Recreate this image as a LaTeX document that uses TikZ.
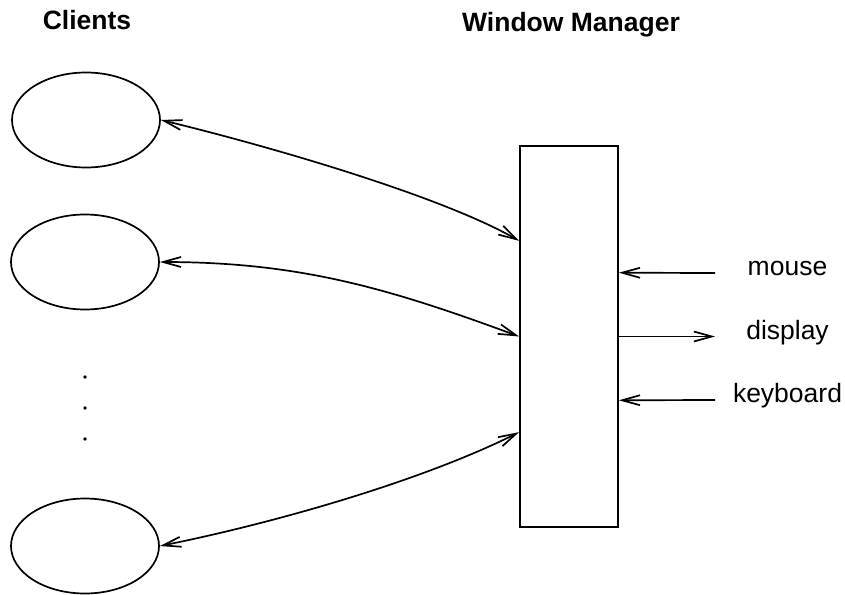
\documentclass[tikz,border=0pt]{standalone}
\usepackage{xcolor}
\usepackage{fontspec}
\setmainfont{Liberation Sans}
\usepackage{tikz}
\usetikzlibrary{positioning, shapes, calc, arrows.meta}

\begin{document}
\begin{tikzpicture}[x=1pt, y=1pt, line width=1.7pt, >={Straight Barb[length=18pt,width=10pt]},
	client/.style={draw, ellipse, minimum width=148pt, minimum height=95pt, inner sep=0pt},
	manager/.style={draw, rectangle, minimum width=98pt, minimum height=381pt, inner sep=0pt},
	lbl/.style={font=\fontsize{26.5}{30}\selectfont, inner sep=0pt},
	head/.style={font=\fontsize{26.5}{30}\selectfont\bfseries, inner sep=0pt, anchor=base}]
			\useasboundingbox (0,0) rectangle (845,-594);
			\pgfmathsetmacro{\portx}{715}
			\pgfmathsetmacro{\labelx}{787.5}
			\node[head] (clients) at (87,-30) {Clients};
			\node[head] (wmtitle) at (571,-32) {Window Manager};
			\node[client] (c1) at (86,-120) {};
			\node[client] (c2) at (85,-262) {};
			\node[client] (c3) at (85,-546) {};
			\foreach \y in {377,408,439} \fill (85,-\y) circle (1.8);
			\node[manager] (wm) at (569,-336.5) {};
			\coordinate (w1) at ($(wm.north west)!.25!(wm.south west)$);
			\coordinate (w3) at ($(wm.north west)!.75!(wm.south west)$);
			\coordinate (r1) at ($(wm.north east)!1/3!(wm.south east)$);
			\coordinate (r3) at ($(wm.north east)!2/3!(wm.south east)$);
			\coordinate (min) at (\portx,-273);
			\coordinate (dout) at (\portx,-336.5);
			\coordinate (kin) at (\portx,-400);
			\draw[<->] (c1.east) .. controls +(100,-24) and +(-80,46) .. (w1);
			\draw[<->] (c2.east) .. controls +(140,0) and +(-130,48) .. (wm.west);
			\draw[<->] (c3.east) .. controls +(110,22) and +(-100,-50) .. (w3);
			\draw[->] (min) -- (r1);
			\draw[->] (wm.east) -- (dout);
			\draw[->] (kin) -- (r3);
			\node[lbl, anchor=mid] (mouse) at (\labelx,-273) {mouse};
			\node[lbl, anchor=mid] (display) at (\labelx,-336.5) {display};
			\node[lbl, anchor=mid] (keyboard) at (\labelx,-400) {keyboard};
			\end{tikzpicture}
\end{document}
